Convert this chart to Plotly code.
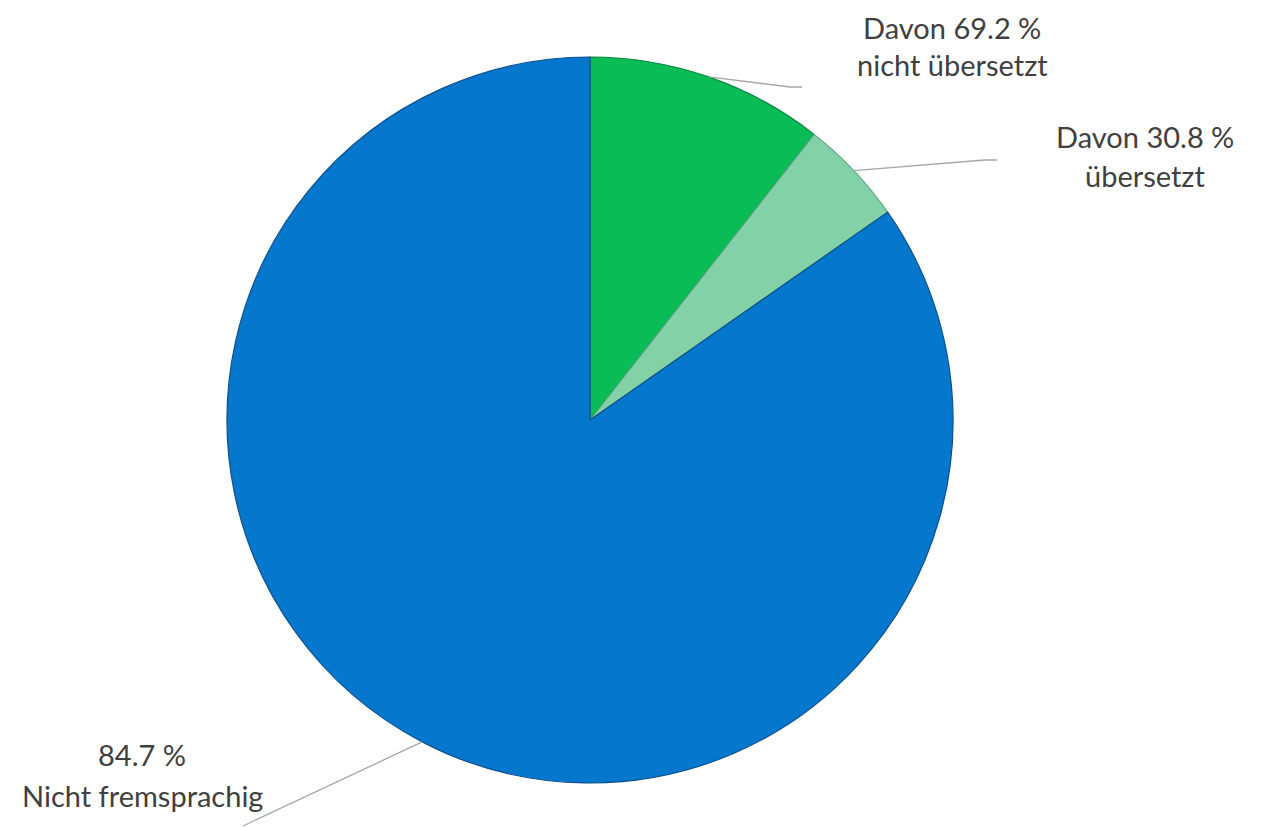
import math
import plotly.graph_objects as go

# ---- data ----
categories = ["Davon 69.2 %<br>nicht übersetzt", "Davon 30.8 %<br>übersetzt", "84.7 %<br>Nicht fremsprachig"]
fremdsprachig_total = 15.3          # % of all
davon_shares = [69.2, 30.8]         # % of the foreign-language part
nicht_fremdsprachig = 84.7          # % of all

values = [fremdsprachig_total * s / 100 for s in davon_shares] + [nicht_fremdsprachig]
colors = ["#09BC56", "#82D1A7", "#0577CD"]
edge_colors = ["#06873d", "#5aa57f", "#0a4f8f"]

W, H = 1265, 827
OFF = 8                      # page body margin
CX, CY, R = 590, 420, 363    # pixel centre / radius of the pie (page coords)

def px(x):
    return (x - OFF) / W

def py(y):
    return 1 - (y - OFF) / H

fig = go.Figure(go.Pie(
    labels=categories,
    values=values,
    sort=False,
    direction="clockwise",
    rotation=0,
    textinfo="none",
    hoverinfo="label+percent",
    marker=dict(colors=colors, line=dict(color=edge_colors, width=1.2)),
    domain=dict(x=[px(CX - R), px(CX + R)], y=[py(CY + R), py(CY - R)]),
    showlegend=False,
))

# label positions (pixels: x centre, y centre of each line) and leader-line end points
label_pos = [(952, [28, 64]), (1145, [136, 175]), (142, [754, 795])]
line_ends = [[(790, 87), (802, 87)], [(985, 160), (997, 160)], [(243, 826)]]

total = sum(values)
cum = 0
shapes = []
annotations = []
for i, v in enumerate(values):
    mid = (cum + v / 2) / total * 2 * math.pi
    cum += v
    sx = CX + R * math.sin(mid)
    sy = CY - R * math.cos(mid)
    pts = [(sx, sy)] + line_ends[i]
    path = "M " + " L ".join(f"{px(x)},{py(y)}" for x, y in pts)
    shapes.append(dict(type="path", xref="paper", yref="paper", path=path,
                       line=dict(color="#a6a6a6", width=1.3)))
    lx, lys = label_pos[i]
    for line_text, ly in zip(categories[i].split("<br>"), lys):
        annotations.append(dict(x=px(lx), y=py(ly), xref="paper", yref="paper",
                                text=line_text, showarrow=False, align="center",
                                xanchor="center", yanchor="middle", borderpad=0,
                                font=dict(family="Lato", size=29, color="#404040")))

fig.update_layout(
    width=W, height=H,
    margin=dict(l=0, r=0, t=0, b=0),
    paper_bgcolor="white",
    plot_bgcolor="white",
    shapes=shapes,
    annotations=annotations,
)

fig.write_html("out.html")
